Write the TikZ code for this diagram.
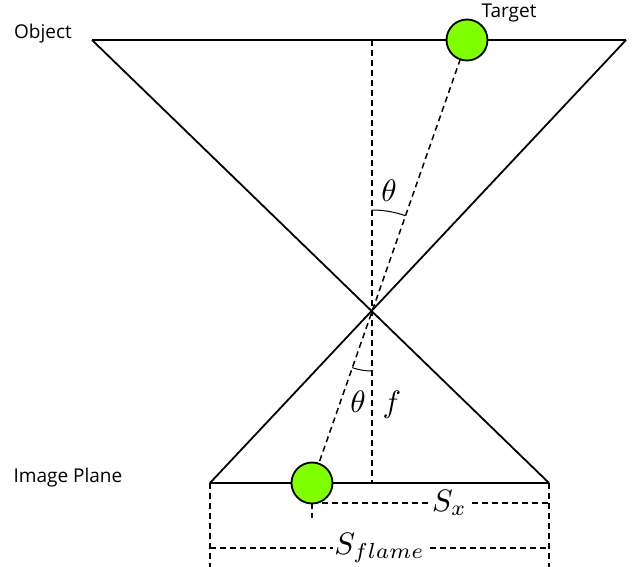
\documentclass[tikz,border=0pt]{standalone}
\usepackage{graphicx}
\usepackage{fontspec}
\newfontfamily\labelfont{Open Sans}
\usepackage{xcolor}
\definecolor{spotgreen}{RGB}{127,255,0}
\newcommand{\bigsym}[1]{\scalebox{3.1}{$#1$}}

\begin{document}
\begin{tikzpicture}[x=1pt, y=-1pt,
		edge/.style={line width=1.8pt},
		guide/.style={line width=1.5pt, dash pattern=on 6pt off 4pt},
		anglemark/.style={line width=1pt},
		spot/.style={draw, circle, fill=spotgreen, minimum size=41pt, inner sep=0pt, line width=1.8pt},
		caption/.style={font=\labelfont\fontsize{19}{22}\selectfont},
		sym/.style={inner sep=1pt},
		]
		\useasboundingbox (0,0) rectangle (635,567);
		
		\coordinate (objL) at (92,40);
		\coordinate (objR) at (626,40);
		\coordinate (objM) at (372,40);
		\coordinate (imgL) at (210,483);
		\coordinate (imgR) at (549,483);
		\coordinate (imgM) at (372,483);
		\coordinate (lens) at (372,311);
		\coordinate (tgt) at (467,40);
		\coordinate (img) at (312,483);
		\coordinate (dimL) at (210,567);
		\coordinate (dimR) at (549,567);
		\coordinate (dimX) at (312,518);
		
		\draw[edge] (objL) -- (objR);
		\draw[edge] (imgL) -- (imgR);
		\draw[edge] (objL) -- (imgR);
		\draw[edge] (objR) -- (imgL);
		\draw[guide] (objM) -- (imgM);
		\draw[guide] (tgt) -- (img);
		
		% angle marks
		\draw[anglemark] (lens) ++(0,-101) arc[start angle=-90, end angle=-70.7, radius=101];
		\draw[anglemark] (lens) ++(0,60) arc[start angle=90, end angle=109.3, radius=60];
		
		% dimensions
		\draw[guide] (imgL) -- (dimL);
		\draw[guide] (imgR) -- (dimR);
		\draw[guide] (img) -- (dimX);
		\draw[guide] (img |- 0,503) -- node[sym, fill=white, pos=0.58]{\bigsym{S_x}} (imgR |- 0,503);
		\draw[guide] (imgL |- 0,548) -- node[sym, fill=white]{\bigsym{S_{flame}}} (imgR |- 0,548);
		
		\node[spot] (target) at (tgt) {};
		\node[spot] (spotimg) at (img) {};
		
		\node[sym] (thetaT) at (389,191) {\bigsym{\theta}};
		\node[sym] (thetaB) at (358,402) {\bigsym{\theta}};
		\node[sym] (focal) at (392,405) {\bigsym{f}};
		
		\node[caption] (objlabel) at (43,34) {Object};
		\node[caption] (tgtlabel) at (509,13) {Target};
		\node[caption] (imglabel) at (68,478) {Image Plane};
		
\end{tikzpicture}
\end{document}
